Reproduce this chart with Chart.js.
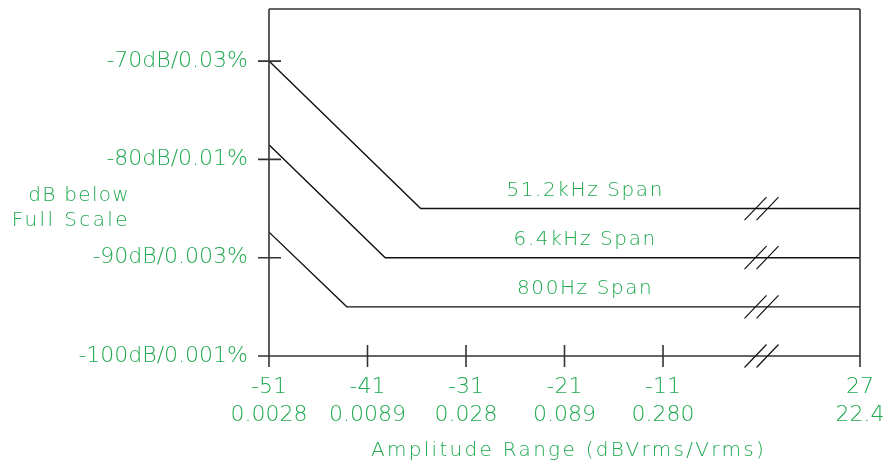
<!DOCTYPE html>
<html>
<head>
<meta charset="utf-8">
<script src="https://cdn.jsdelivr.net/npm/chart.js@4/dist/chart.umd.min.js"></script>
<style>
html,body{margin:0;padding:0;background:#fff;}
#wrap{width:890px;height:466px;position:relative;}
</style>
</head>
<body>
<div id="wrap"><canvas id="c" width="890" height="466"></canvas></div>
<script>
// ---- data ----
const seriesNames = ['51.2kHz Span', '6.4kHz Span', '800Hz Span'];
const span51kX = [-51, -35.6, 9];
const span51kY = [-70, -85, -85];
const span6kX  = [-51, -39.2, 9];
const span6kY  = [-78.5, -90, -90];
const span800X = [-51, -43.1, 9];
const span800Y = [-87.4, -95, -95];

const xTickValues = [-51, -41, -31, -21, -11, 9];
const xTickDb     = ['-51', '-41', '-31', '-21', '-11', '27'];
const xTickVrms   = ['0.0028', '0.0089', '0.028', '0.089', '0.280', '22.4'];
const yTickValues = [-100, -90, -80, -70];
const yTickLabels = ['-100dB/0.001%', '-90dB/0.003%', '-80dB/0.01%', '-70dB/0.03%'];
const breakX = -1;
const xTitle = 'Amplitude Range (dBVrms/Vrms)';
const yTitle = ['dB below', 'Full Scale'];

const GREEN = '#1fa84f';
const FONT = '"DejaVu Sans", sans-serif';

function pts(xs, ys){ return xs.map((x,i)=>({x:x, y:ys[i]})); }
const seriesData = [pts(span51kX, span51kY), pts(span6kX, span6kY), pts(span800X, span800Y)];

const decor = {
  id: 'decor',
  beforeDraw(chart){ chart.ctx.letterSpacing = '0px'; },
  afterDatasetsDraw(chart){
    const ctx = chart.ctx, a = chart.chartArea;
    const xs = chart.scales.x, ys = chart.scales.y;
    ctx.save();
    ctx.strokeStyle = '#333';
    ctx.lineWidth = 1.6;
    ctx.beginPath();
    // frame
    ctx.moveTo(a.left, a.top); ctx.lineTo(a.right, a.top);
    ctx.moveTo(a.left, a.top); ctx.lineTo(a.left, a.bottom + 11);
    ctx.moveTo(a.right, a.top); ctx.lineTo(a.right, a.bottom + 11);
    ctx.moveTo(a.left, a.bottom); ctx.lineTo(a.right, a.bottom);
    // y ticks
    yTickValues.forEach(v => {
      const py = ys.getPixelForValue(v);
      ctx.moveTo(a.left - 11, py); ctx.lineTo(a.left + (v === yTickValues[0] ? 0 : 12), py);
    });
    // x ticks
    xTickValues.slice(1, -1).forEach(v => {
      const px = xs.getPixelForValue(v);
      ctx.moveTo(px, a.bottom - 11); ctx.lineTo(px, a.bottom + 11);
    });
    ctx.stroke();
    // break marks
    ctx.strokeStyle = '#111';
    ctx.lineWidth = 1.2;
    const bx = xs.getPixelForValue(breakX);
    const levels = seriesData.map(d => ys.getPixelForValue(d[d.length-1].y));
    levels.push(a.bottom);
    ctx.beginPath();
    levels.forEach(cy => {
      [-6, 6].forEach(off => {
        const cx = bx + off;
        ctx.moveTo(cx - 11, cy + 11.5); ctx.lineTo(cx + 11, cy - 11.5);
      });
    });
    ctx.stroke();
    // texts
    ctx.fillStyle = GREEN;
    ctx.font = '200 20px ' + FONT;
    ctx.letterSpacing = '1.6px';
    ctx.textAlign = 'center';
    ctx.textBaseline = 'middle';
    seriesData.forEach((d, i) => {
      const level = d[d.length-1].y;
      ctx.fillText(seriesNames[i], xs.getPixelForValue(-18.9), ys.getPixelForValue(level) - 18);
    });
    ctx.letterSpacing = '2.3px';
    ctx.fillText(xTitle, (a.left + a.right) / 2 + 4, a.bottom + 95);
    ctx.textAlign = 'right';
    ctx.letterSpacing = '1.3px';
    ctx.fillText(yTitle[0], a.left - 139, a.top + 187);
    ctx.letterSpacing = '2.4px';
    ctx.fillText(yTitle[1], a.left - 139, a.top + 212);
    ctx.restore();
  }
};

new Chart(document.getElementById('c'), {
  type: 'line',
  data: {
    datasets: seriesData.map((d, i) => ({
      label: seriesNames[i],
      data: d,
      borderColor: '#111',
      borderWidth: 1.4,
      pointRadius: 0,
      tension: 0,
      fill: false
    }))
  },
  options: {
    responsive: false,
    animation: false,
    events: [],
    layout: { padding: { top: 9, right: 30, left: 0, bottom: 0 } },
    plugins: { legend: { display: false }, tooltip: { enabled: false }, title: { display: false } },
    scales: {
      x: {
        type: 'linear',
        min: -51, max: 9,
        offset: false,
        grid: { display: false, drawTicks: false },
        border: { display: false },
        afterBuildTicks: s => { s.ticks = xTickValues.map(v => ({ value: v })); },
        afterFit: s => { s.height = 110; s.paddingLeft = 0; s.paddingRight = 0; },
        ticks: {
          autoSkip: false,
          maxRotation: 0,
          padding: 17,
          color: GREEN,
          font: { family: FONT, size: 22, weight: '200', lineHeight: 1.27 },
          callback: (v) => { const i = xTickValues.indexOf(v); return i < 0 ? '' : [xTickDb[i], xTickVrms[i]]; }
        }
      },
      y: {
        type: 'linear',
        min: -100, max: -64.7,
        grid: { display: false, drawTicks: false },
        border: { display: false },
        afterBuildTicks: s => { s.ticks = yTickValues.map(v => ({ value: v })); },
        afterFit: s => { s.width = 269; s.paddingTop = 0; s.paddingBottom = 0; },
        ticks: {
          padding: 21,
          color: GREEN,
          font: { family: FONT, size: 22, weight: '200' },
          callback: (v) => { const i = yTickValues.indexOf(v); return i < 0 ? '' : yTickLabels[i]; }
        }
      }
    }
  },
  plugins: [decor]
});
</script>
</body>
</html>
